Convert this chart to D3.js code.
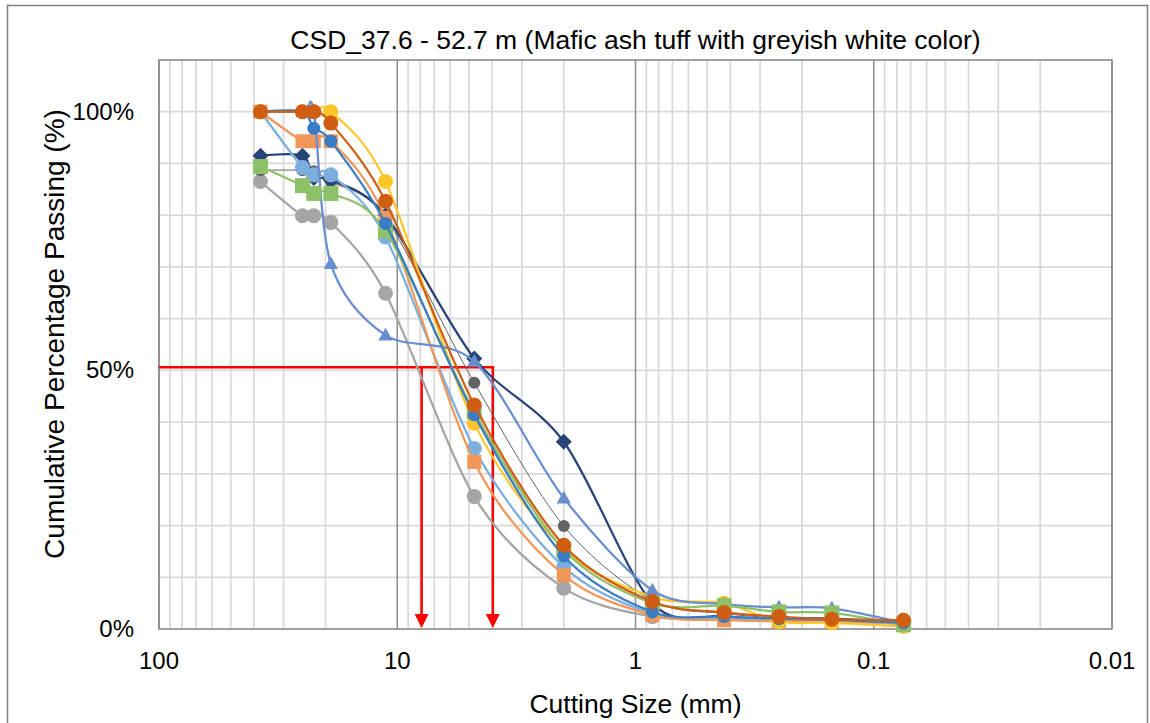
<!DOCTYPE html>
<html>
<head>
<meta charset="utf-8">
<script src="https://d3js.org/d3.v7.min.js"></script>
<style>
  body { margin: 0; background: #fff; }
  text { font-family: "Liberation Sans", Arial, sans-serif; fill: #000; }
</style>
</head>
<body>
<div id="chart"></div>
<script>
// sieve sizes (mm)
var sizes = [37.5, 25, 22.4, 19, 11.2, 4.75, 2, 0.85, 0.425, 0.25, 0.15, 0.075];

// cumulative % passing, one array per sample
var greyPass      = [86.5, 79.9, 79.9, 78.6, 64.9, 25.6, 7.9, 2.4, 2.0, 1.5, 1.5, 1.0];
var darkGreyPass  = [88.7, 88.7, 88.5, 86.5, 79.5, 47.6, 19.9, 5.5, 3.0, 2.2, 2.0, 1.2];
var navyPass      = [91.5, 91.5, 87.2, 86.8, 80.0, 52.3, 36.2, 5.0, 2.5, 2.0, 2.0, 1.2];
var lightBluePass = [100, 89.2, 87.8, 87.8, 75.8, 34.9, 12.0, 3.0, 2.2, 1.8, 1.5, 1.0];
var salmonPass    = [100, 94.3, 94.3, 94.3, 79.5, 32.3, 10.4, 2.7, 1.7, 1.5, 1.5, 1.0];
var goldPass      = [100, 100, 100, 100, 86.5, 39.8, 15.5, 6.2, 5.0, 1.4, 1.2, 0.5];
var trianglePass  = [100, 100, 100, 70.6, 56.8, 51.7, 25.3, 7.5, 4.8, 4.2, 4.0, 1.2];
var greenPass     = [89.4, 85.7, 84.2, 84.2, 77.0, 42.0, 15.3, 5.0, 4.5, 3.3, 3.1, 0.8];
var bluePass      = [100, 100, 96.8, 94.3, 78.4, 41.4, 14.1, 3.3, 2.4, 2.0, 1.8, 1.2];
var orangePass    = [100, 100, 100, 97.8, 82.7, 43.3, 16.2, 5.3, 3.2, 2.4, 1.9, 1.7];

// D50 reading
var d50Level = 50.6;
var d50Sizes = [7.9, 3.97];

var yTicks = [0, 50, 100];
var xTicks = [100, 10, 1, 0.1, 0.01];

var series = [
  {v: greyPass,      color: "#a5a5a5", lw: 2.25, shape: "circle", size: 7.5},
  {v: darkGreyPass,  color: "#636363", lw: 1,    shape: "circle", size: 6},
  {v: navyPass,      color: "#264478", lw: 2.25, shape: "diamond", size: 8},
  {v: lightBluePass, color: "#7cafdd", lw: 2.25, shape: "circle", size: 7.5},
  {v: salmonPass,    color: "#f1975a", lw: 2.25, shape: "square", size: 7},
  {v: goldPass,      color: "#ffc629", lw: 2.25, shape: "circle", size: 7.5},
  {v: trianglePass,  color: "#698ed0", lw: 2.25, shape: "triangle", size: 7.5},
  {v: greenPass,     color: "#8cc168", lw: 2.25, shape: "square", size: 7.5},
  {v: bluePass,      color: "#3a7dc4", lw: 2.25, shape: "circle", size: 6.5},
  {v: orangePass,    color: "#cf5e12", lw: 2.25, shape: "circle", size: 7.5}
];

var width = 1150, height = 723;
var plotL = 159, plotR = 1112, plotT = 60, plotB = 629;

var svg = d3.select("#chart").append("svg")
  .attr("width", width).attr("height", height);

// outer chart border
svg.append("rect")
  .attr("x", 7.5).attr("y", 5.5).attr("width", 1140).attr("height", 740)
  .attr("fill", "none").attr("stroke", "#7f7f7f").attr("stroke-width", 1.5);

var x = d3.scaleLog().domain([100, 0.01]).range([plotL, plotR]);
var y = d3.scaleLinear().domain([0, 110]).range([plotB, plotT]);

// minor vertical grid
var minor = [];
[0.01, 0.1, 1, 10].forEach(function(dec) {
  for (var k = 2; k <= 9; k++) minor.push(dec * k);
});
svg.append("g").selectAll("line").data(minor).join("line")
  .attr("x1", d => x(d)).attr("x2", d => x(d))
  .attr("y1", plotT).attr("y2", plotB)
  .attr("stroke", "#d9d9d9").attr("stroke-width", 1.75);

// horizontal grid every 10%
svg.append("g").selectAll("line").data(d3.range(0, 111, 10)).join("line")
  .attr("x1", plotL).attr("x2", plotR)
  .attr("y1", d => y(d)).attr("y2", d => y(d))
  .attr("stroke", "#d9d9d9").attr("stroke-width", 1.75);

// major vertical grid
svg.append("g").selectAll("line").data(xTicks).join("line")
  .attr("x1", d => x(d)).attr("x2", d => x(d))
  .attr("y1", plotT).attr("y2", plotB)
  .attr("stroke", "#8c8c8c").attr("stroke-width", 1.5);

// plot border
svg.append("rect")
  .attr("x", plotL).attr("y", plotT).attr("width", plotR - plotL).attr("height", plotB - plotT)
  .attr("fill", "none").attr("stroke", "#8c8c8c").attr("stroke-width", 1.5);

// axis labels
svg.append("g").selectAll("text").data(yTicks).join("text")
  .attr("x", 134).attr("y", d => y(d) + 8)
  .attr("text-anchor", "end").attr("font-size", 24)
  .text(d => d + "%");

svg.append("g").selectAll("text").data(xTicks).join("text")
  .attr("x", d => x(d)).attr("y", 669)
  .attr("text-anchor", "middle").attr("font-size", 24)
  .text(d => d);

svg.append("text")
  .attr("x", (plotL + plotR) / 2).attr("y", 49)
  .attr("text-anchor", "middle").attr("font-size", 26.5)
  .text("CSD_37.6 - 52.7 m (Mafic ash tuff with greyish white color)");

svg.append("text")
  .attr("x", (plotL + plotR) / 2).attr("y", 713)
  .attr("text-anchor", "middle").attr("font-size", 26.5)
  .text("Cutting Size (mm)");

svg.append("text")
  .attr("transform", "translate(64,334) rotate(-90)")
  .attr("text-anchor", "middle").attr("font-size", 28)
  .text("Cumulative Percentage Passing (%)");

// red D50 construction
var red = svg.append("g");
red.append("line")
  .attr("x1", plotL).attr("x2", x(d50Sizes[1]) + 1.25)
  .attr("y1", y(d50Level)).attr("y2", y(d50Level))
  .attr("stroke", "#ff0000").attr("stroke-width", 2.5);
d50Sizes.forEach(function(s) {
  red.append("line")
    .attr("x1", x(s)).attr("x2", x(s))
    .attr("y1", y(d50Level) - 1.25).attr("y2", y(0) - 12)
    .attr("stroke", "#ff0000").attr("stroke-width", 2.5);
  red.append("path")
    .attr("d", "M" + (x(s) - 7) + "," + (y(0) - 15) + "L" + (x(s) + 7) + "," + (y(0) - 15) +
               "L" + x(s) + "," + (y(0) - 1) + "Z")
    .attr("fill", "#ff0000");
});

// series lines + markers
var line = d3.line()
  .x((d, i) => x(sizes[i]))
  .y(d => y(d))
  .curve(d3.curveCardinal.tension(0.1));

function marker(g, shape, r, color) {
  if (shape === "circle") {
    g.append("circle").attr("r", r).attr("fill", color);
  } else if (shape === "square") {
    g.append("rect").attr("x", -r).attr("y", -r).attr("width", 2 * r).attr("height", 2 * r).attr("fill", color);
  } else if (shape === "diamond") {
    g.append("path").attr("d", "M0," + (-r) + "L" + r + ",0L0," + r + "L" + (-r) + ",0Z").attr("fill", color);
  } else {
    g.append("path").attr("d", "M0," + (-r) + "L" + (r * 0.95) + "," + (r * 0.7) + "L" + (-r * 0.95) + "," + (r * 0.7) + "Z").attr("fill", color);
  }
}

series.forEach(function(s) {
  var g = svg.append("g");
  g.append("path")
    .attr("d", line(s.v))
    .attr("fill", "none").attr("stroke", s.color).attr("stroke-width", s.lw);
  s.v.forEach(function(v, i) {
    var m = g.append("g").attr("transform", "translate(" + x(sizes[i]) + "," + y(v) + ")");
    marker(m, s.shape, s.size, s.color);
  });
});
</script>
</body>
</html>
